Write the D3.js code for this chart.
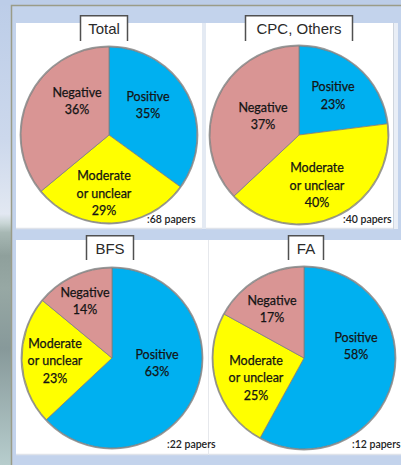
<!DOCTYPE html>
<html>
<head>
<meta charset="utf-8">
<script src="https://cdn.jsdelivr.net/npm/d3@7"></script>
<style>
  html, body { margin: 0; padding: 0; background: #c3d3ec; }
  svg { display: block; }
</style>
</head>
<body>
<div id="chart"></div>
<script>
// Share of papers per outcome, for each group of studies
const groups = ["Total", "CPC, Others", "BFS", "FA"];
const paperCounts = [68, 40, 22, 12];
const categories = ["Positive", "Moderate\nor unclear", "Negative"];
const positive = [35, 23, 63, 58];
const moderate = [29, 40, 23, 25];
const negative = [36, 37, 14, 17];

const colors = d3.scaleOrdinal()
  .domain(categories)
  .range(["#00b0f0", "#ffff00", "#d99594"]);

const W = 401, H = 465;

// Panel frames, pie geometry and title boxes
const layout = [
  { px: 16,  py: 23,  pw: 186, ph: 206, cx: 109, cy: 135, r: 88, box: [80, 128, 15, 41],  note: [147, 223],
    labels: [[39, -30], [-5, 58], [-32, -34]] },
  { px: 206, py: 23,  pw: 187, ph: 206, cx: 299, cy: 135, r: 89, box: [245, 353, 15, 41], note: [343, 223],
    labels: [[34, -39.5], [18, 50], [-36, -19]] },
  { px: 16,  py: 240, pw: 192, ph: 215, cx: 112, cy: 358, r: 90, box: [86, 134, 235, 260], note: [167, 448],
    labels: [[45, 5], [-57, 2.5], [-27, -57]] },
  { px: 209, py: 240, pw: 200, ph: 215, cx: 304, cy: 358, r: 91, box: [288, 324, 235, 260], note: [352, 448],
    labels: [[52, -12], [-48, 19.5], [-32, -49]] }
];

const svg = d3.select("#chart").append("svg")
  .attr("width", W).attr("height", H);

const defs = svg.append("defs");
const side = defs.append("linearGradient").attr("id", "side")
  .attr("x1", 0).attr("y1", 0).attr("x2", 0).attr("y2", 1);
[[0, "#bccde8"], [0.3, "#ccd8ec"], [0.46, "#e2e8f2"], [0.48, "#c9d6d6"], [0.5, "#a7b8b4"],
 [0.55, "#8fa09c"], [0.62, "#97a8a4"], [0.75, "#87999a"], [1, "#b7cdcd"]]
  .forEach(([o, c]) => side.append("stop").attr("offset", o).attr("stop-color", c));

const shadow = defs.append("filter").attr("id", "soft")
  .attr("x", "-10%").attr("y", "-10%").attr("width", "120%").attr("height", "120%");
shadow.append("feGaussianBlur").attr("stdDeviation", 0.4);

// slide background
svg.append("rect").attr("width", W).attr("height", H).attr("fill", "#c3d3ec");
svg.append("rect").attr("x", 0).attr("y", 0).attr("width", 11).attr("height", H).attr("fill", "url(#side)");
svg.append("rect").attr("x", 0).attr("y", 0).attr("width", W).attr("height", 5).attr("fill", "#bccde8");

// outer frame
svg.append("path")
  .attr("d", `M11.5,${H} V5.5 H${W}`)
  .attr("fill", "none").attr("stroke", "#9a9c88").attr("stroke-width", 1.5);

// panels
svg.append("rect").attr("x", 202).attr("y", 23).attr("width", 4).attr("height", 206).attr("fill", "#e4eaf3");
svg.append("rect").attr("x", 393).attr("y", 23).attr("width", 5).attr("height", 206).attr("fill", "#e9eef6");
svg.append("line").attr("x1", 393.5).attr("x2", 393.5).attr("y1", 23).attr("y2", 229)
  .attr("stroke", "#cfd5dd").attr("stroke-width", 1);

layout.forEach(L => {
  svg.append("rect")
    .attr("x", L.px).attr("y", L.py).attr("width", L.pw).attr("height", L.ph)
    .attr("fill", "#ffffff");
  svg.append("line")
    .attr("x1", L.px).attr("x2", L.px + L.pw)
    .attr("y1", L.py + L.ph - 0.5).attr("y2", L.py + L.ph - 0.5)
    .attr("stroke", "#dfe3ea").attr("stroke-width", 1.5);
});
svg.append("line").attr("x1", 208.5).attr("x2", 208.5).attr("y1", 240).attr("y2", 455)
  .attr("stroke", "#e6e8ec").attr("stroke-width", 1);

const pie = d3.pie().sort(null).value(d => d.value);

groups.forEach((name, i) => {
  const L = layout[i];
  const data = [
    { cat: categories[0], value: positive[i] },
    { cat: categories[1], value: moderate[i] },
    { cat: categories[2], value: negative[i] }
  ];
  const arc = d3.arc().innerRadius(0).outerRadius(L.r);
  const g = svg.append("g").attr("transform", `translate(${L.cx},${L.cy})`);

  // soft rim around the pie
  g.append("circle").attr("r", L.r + 0.6)
    .attr("fill", "none").attr("stroke", "#9a9a9a").attr("stroke-width", 1.6)
    .attr("filter", "url(#soft)");

  g.selectAll("path.slice").data(pie(data)).join("path")
    .attr("class", "slice")
    .attr("d", arc)
    .attr("fill", d => colors(d.data.cat))
    .attr("stroke", "#7f7f7f").attr("stroke-width", 0.8);

  // slice labels: category name and share
  g.selectAll("text.lab").data(pie(data)).join("text")
    .attr("class", "lab")
    .attr("text-anchor", "middle")
    .attr("font-family", "Lato, 'Open Sans', sans-serif")
    .attr("font-size", 12.5)
    .attr("fill", "#141414")
    .attr("stroke", "#141414").attr("stroke-width", 0.25)
    .each(function (d, j) {
      const lines = d.data.cat.split("\n").concat([d.data.value + "%"]);
      const [ox, oy] = L.labels[j];
      const lh = 17.5;
      const top = oy - (lines.length - 1) * lh / 2 + 4.5;
      d3.select(this).selectAll("tspan").data(lines).join("tspan")
        .attr("x", ox)
        .attr("y", (t, k) => top + k * lh)
        .text(t => t);
    });

  // number of papers
  svg.append("text")
    .attr("x", L.note[0]).attr("y", L.note[1])
    .attr("font-family", "Lato, 'Open Sans', sans-serif")
    .attr("font-size", 10.5)
    .attr("font-weight", 600)
    .attr("fill", "#222")
    .text(":" + paperCounts[i] + " papers");

  // title tab
  const [bx0, bx1, by0, by1] = L.box;
  svg.append("rect")
    .attr("x", bx0).attr("y", by0).attr("width", bx1 - bx0).attr("height", by1 - by0)
    .attr("fill", "#ffffff");
  svg.append("path")
    .attr("d", `M${bx0 + 0.5},${by1} V${by0 + 0.75} H${bx1 - 0.5} V${by1}`)
    .attr("fill", "none").attr("stroke", "#505050").attr("stroke-width", 1.5);
  svg.append("text")
    .attr("x", (bx0 + bx1) / 2).attr("y", by0 + 19)
    .attr("text-anchor", "middle")
    .attr("font-family", "Liberation Sans, Arial, sans-serif")
    .attr("font-size", 15)
    .attr("fill", "#2a2a2a")
    .text(name);
});
</script>
</body>
</html>
